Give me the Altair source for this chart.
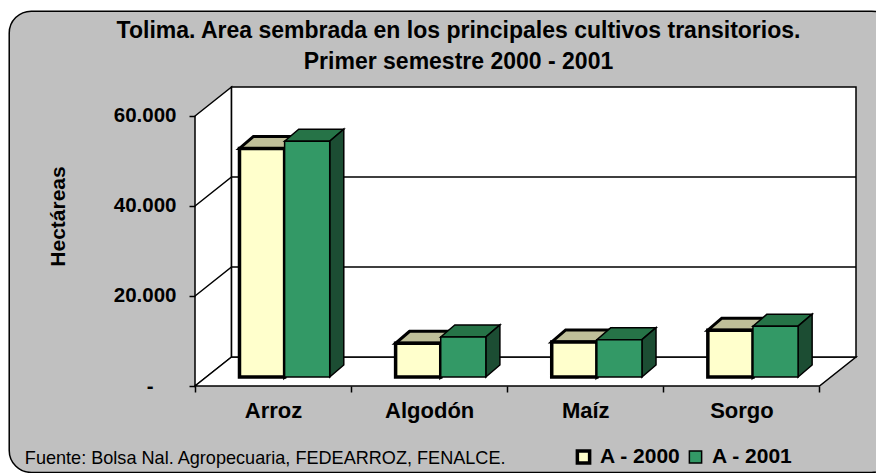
import altair as alt
import pandas as pd

categories = ["Arroz", "Algodón", "Maíz", "Sorgo"]
series = ["A - 2000", "A - 2001"]
values_2000 = [50800, 7500, 7800, 10400]
values_2001 = [52400, 8900, 8300, 11300]
y_ticks = [0, 20000, 40000, 60000]
title_lines = ["Tolima. Area sembrada en los principales cultivos transitorios.",
               "Primer semestre 2000 - 2001"]
source_text = "Fuente: Bolsa Nal. Agropecuaria, FEDEARROZ, FENALCE."

# depth of the 3-D box, in data units
WALL_DX, WALL_DY = 0.234, 6444
BAR_DX, BAR_DY = 0.09, 2667
BAR_W, BAR_START, BAR_BASE = 0.289, 0.285, 2000

XDOM = [0, 4 + WALL_DX]
YDOM = [0, 60000 + WALL_DY]

x_axis = alt.Axis(
    values=[0, .5, 1, 1.5, 2, 2.5, 3, 3.5, 4], title=None, domain=False, grid=False,
    tickColor="black", tickWidth=1.5, tickSize=6,
    tickOpacity={"condition": {"test": "datum.value % 1 != 0", "value": 0}, "value": 1},
    labelExpr="datum.value % 1 == 0 ? '' : ['Arroz','Algodón','Maíz','Sorgo'][floor(datum.value)]",
    labelFont="Liberation Sans", labelFontWeight="bold", labelFontSize=22, labelColor="black",
    labelPadding=8, labelOverlap=False, labelFlush=False, zindex=1)
y_axis = alt.Axis(
    values=y_ticks, title="Hectáreas", domain=False, grid=False,
    tickColor="black", tickWidth=1.5, tickSize=6,
    labelExpr="datum.value == 0 ? '-' : replace(format(datum.value, ','), ',', '.')",
    labelFont="Liberation Sans", labelFontWeight="bold", labelFontSize=20.5, labelColor="black",
    labelPadding={"condition": {"test": "datum.value == 0", "value": 36}, "value": 13}, labelOverlap=False,
    titleFont="Liberation Sans", titleFontWeight="bold", titleFontSize=21, titleColor="black",
    titleX=-127, titleY=129, titleAngle=270, titleBaseline="bottom", zindex=1)

X = alt.X("x:Q", scale=alt.Scale(domain=XDOM, nice=False, zero=False), axis=x_axis)
Y = alt.Y("y:Q", scale=alt.Scale(domain=YDOM, nice=False, zero=False), axis=y_axis)

# frame (extends past the picture on the right, as in the reference)
frame = alt.Chart(pd.DataFrame({"x": [-1.19], "x2": [4.475], "y": [-19200], "y2": [83300]})).mark_rect(
    fill="#C0C0C0", stroke="black", strokeWidth=1.5, cornerRadius=22
).encode(x=X, x2="x2:Q", y=Y, y2="y2:Q")

line_style = dict(fill="white", stroke="black", strokeWidth=1.5)
left_wall = alt.Chart(pd.DataFrame({"x": [0, WALL_DX], "y": [0, WALL_DY], "y2": [60000, 60000 + WALL_DY]})).mark_area(
    **line_style).encode(x=X, y=Y, y2="y2:Q")
floor = alt.Chart(pd.DataFrame({"y": [0, WALL_DY], "x": [0, WALL_DX], "x2": [4, 4 + WALL_DX]})).mark_area(
    orient="horizontal", **line_style).encode(y=Y, x=X, x2="x2:Q")
back_wall = alt.Chart(pd.DataFrame({"x": [WALL_DX], "x2": [4 + WALL_DX], "y": [WALL_DY], "y2": [60000 + WALL_DY]})).mark_rect(
    **line_style).encode(x=X, x2="x2:Q", y=Y, y2="y2:Q")

grid_rows = []
for i, v in enumerate(y_ticks[1:-1]):
    grid_rows += [dict(g=i, x=0, y=v), dict(g=i, x=WALL_DX, y=v + WALL_DY), dict(g=i, x=4 + WALL_DX, y=v + WALL_DY)]
grid = alt.Chart(pd.DataFrame(grid_rows)).mark_line(color="black", strokeWidth=1.5).encode(
    x=X, y=Y, detail="g:N")

def faces(values, col, top_color, side_color, sw):
    top_rows, side_rows = [], []
    for i, v in enumerate(values):
        x0 = i + BAR_START + col * BAR_W
        x1 = x0 + BAR_W
        t = BAR_BASE + v
        top_rows += [dict(b=i, y=t, x=x0, x2=x1), dict(b=i, y=t + BAR_DY, x=x0 + BAR_DX, x2=x1 + BAR_DX)]
        side_rows += [dict(b=i, x=x1, y=BAR_BASE, y2=t), dict(b=i, x=x1 + BAR_DX, y=BAR_BASE + BAR_DY, y2=t + BAR_DY)]
    top = alt.Chart(pd.DataFrame(top_rows)).mark_area(
        orient="horizontal", fill=top_color, stroke="black", strokeWidth=sw).encode(
        y=Y, x=X, x2="x2:Q", detail="b:N")
    side = alt.Chart(pd.DataFrame(side_rows)).mark_area(
        fill=side_color, stroke="black", strokeWidth=sw).encode(
        x=X, y=Y, y2="y2:Q", detail="b:N")
    return top, side

top0, side0 = faces(values_2000, 0, "#BFBF99", "#BFBF99", 3)
top1, side1 = faces(values_2001, 1, "#267347", "#1C4D33", 1.5)

front_rows = []
for col, vals in enumerate([values_2000, values_2001]):
    for i, v in enumerate(vals):
        x0 = i + BAR_START + col * BAR_W
        front_rows.append(dict(serie=series[col], x=x0, x2=x0 + BAR_W, y=BAR_BASE, y2=BAR_BASE + v))
legend = alt.Legend(orient="none", legendX=378, legendY=359, direction="horizontal", columns=2, title=None,
                    symbolType="square", symbolSize=150, gridAlign="all", clipHeight=22,
                    labelFont="Liberation Sans", labelFontWeight="bold", labelFontSize=21, labelColor="black",
                    columnPadding=4, labelOffset=6, zindex=1)
fronts = alt.Chart(pd.DataFrame(front_rows)).mark_rect().encode(
    x=X, x2="x2:Q", y=Y, y2="y2:Q",
    color=alt.Color("serie:N", scale=alt.Scale(domain=series, range=["#FFFFCC", "#339966"]), legend=legend),
    stroke=alt.Stroke("serie:N", scale=alt.Scale(domain=series, range=["black", "black"]), legend=legend),
    strokeWidth=alt.StrokeWidth("serie:N", scale=alt.Scale(domain=series, range=[3.5, 1.5]), legend=legend),
    order=alt.Order("serie:N"))

source = alt.Chart(pd.DataFrame({"x": [-1.09], "y": [-17300], "t": [source_text]})).mark_text(
    align="left", baseline="alphabetic", font="Liberation Sans", fontSize=18.1, color="black"
).encode(x=X, y=Y, text="t:N")

chart = alt.layer(frame, left_wall, floor, back_wall, grid, top0, side0, top1, side1, fronts, source).properties(
    width=661, height=299,
    title=alt.TitleParams(title_lines, font="Liberation Sans", fontWeight="bold", fontSize=23, color="black",
                          anchor="middle", frame="group", dx=-67, dy=67.5, lineHeight=31, zindex=1),
    padding={"left": 187, "top": 79, "right": 20, "bottom": 87},
    autosize=alt.AutoSizeParams(type="none", contains="content"),
    background="white",
).configure_view(stroke=None)

chart.save("out.html", embed_options={"renderer": "svg", "actions": False})
